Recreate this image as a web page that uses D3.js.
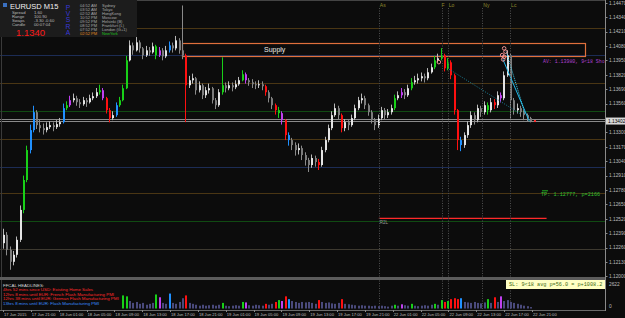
<!DOCTYPE html>
<html><head><meta charset="utf-8">
<script src="https://cdn.jsdelivr.net/npm/d3@7/dist/d3.min.js"></script>
<style>
html,body{margin:0;padding:0;background:#0c0c0c;}
svg{display:block;}
text{font-family:"Liberation Sans",Arial,sans-serif;}
.mono{font-family:"Liberation Mono","DejaVu Sans Mono",monospace;}
</style></head><body><div id="chart"></div>
<script>
// EURUSD, 30 min steps
const firstOpen = 1.12300;
const closes = [
  1.12375,1.12240,1.12132,1.12195,1.12330,1.12600,1.12870,1.13140,1.13320,1.13482,
  1.13365,1.13338,1.13320,1.13347,1.13365,1.13347,1.13374,1.13392,1.13518,1.13545,
  1.13590,1.13608,1.13572,1.13554,1.13590,1.13572,1.13608,1.13626,1.13662,1.13680,
  1.13608,1.13500,1.13428,1.13455,1.13545,1.13590,1.13698,1.13950,1.14085,1.14040,
  1.14112,1.14058,1.13995,1.14040,1.14022,1.14076,1.13995,1.14040,1.13986,1.14040,
  1.14085,1.14058,1.14130,1.14040,1.13995,1.13725,1.13770,1.13788,1.13680,1.13725,
  1.13635,1.13680,1.13698,1.13590,1.13545,1.13662,1.13725,1.13698,1.13725,1.13707,
  1.13734,1.13770,1.13824,1.13770,1.13752,1.13734,1.13725,1.13734,1.13716,1.13662,
  1.13608,1.13545,1.13500,1.13473,1.13410,1.13275,1.13230,1.13185,1.13140,1.13158,
  1.13095,1.13050,1.13005,1.13068,1.13032,1.13005,1.13140,1.13230,1.13338,1.13455,
  1.13518,1.13455,1.13338,1.13392,1.13365,1.13428,1.13518,1.13590,1.13608,1.13545,
  1.13482,1.13410,1.13365,1.13428,1.13500,1.13455,1.13482,1.13518,1.13608,1.13635,
  1.13662,1.13635,1.13698,1.13752,1.13770,1.13788,1.13806,1.13788,1.13842,1.13887,
  1.13950,1.13968,1.13995,1.13878,1.13932,1.13815,1.13500,1.13230,1.13185,1.13275,
  1.13365,1.13455,1.13410,1.13518,1.13482,1.13545,1.13500,1.13572,1.13545,1.13635,
  1.13608,1.13815,1.13995,1.13590,1.13500,1.13518,1.13482,1.13455,1.13428,1.13402
];
const highs = [
  1.12430,1.12400,1.12270,1.12230,1.12360,1.12640,1.12910,1.13180,1.13370,1.13540,
  1.13500,1.13420,1.13380,1.13390,1.13400,1.13390,1.13410,1.13430,1.13560,1.13580,
  1.13630,1.13650,1.13630,1.13600,1.13620,1.13610,1.13640,1.13660,1.13700,1.13730,
  1.13700,1.13620,1.13520,1.13490,1.13570,1.13620,1.13730,1.13990,1.14130,1.14110,
  1.14160,1.14130,1.14070,1.14080,1.14070,1.14110,1.14090,1.14070,1.14060,1.14080,
  1.14120,1.14110,1.14170,1.14150,1.14445,1.14010,1.13810,1.13830,1.13800,1.13760,
  1.13740,1.13710,1.13740,1.13710,1.13610,1.13690,1.13977,1.13750,1.13760,1.13750,
  1.13770,1.13800,1.13860,1.13840,1.13790,1.13780,1.13760,1.13770,1.13760,1.13730,
  1.13680,1.13620,1.13560,1.13530,1.13490,1.13420,1.13300,1.13250,1.13210,1.13200,
  1.13180,1.13120,1.13070,1.13100,1.13090,1.13060,1.13170,1.13260,1.13370,1.13490,
  1.13560,1.13540,1.13470,1.13420,1.13410,1.13460,1.13550,1.13620,1.13650,1.13630,
  1.13560,1.13500,1.13430,1.13460,1.13530,1.13520,1.13510,1.13550,1.13640,1.13670,
  1.13700,1.13690,1.13730,1.13790,1.13810,1.13830,1.13840,1.13830,1.13880,1.13920,
  1.13990,1.14010,1.14060,1.14010,1.13970,1.13950,1.13830,1.13510,1.13260,1.13300,
  1.13400,1.13490,1.13480,1.13550,1.13540,1.13580,1.13570,1.13610,1.13600,1.13670,
  1.13660,1.13850,1.14040,1.14010,1.13610,1.13560,1.13540,1.13500,1.13470,1.13440
];
const lows = [
  1.12250,1.12190,1.12060,1.12100,1.12170,1.12310,1.12570,1.12850,1.13110,1.13300,
  1.13330,1.13300,1.13280,1.13300,1.13330,1.13310,1.13330,1.13350,1.13380,1.13500,
  1.13530,1.13570,1.13540,1.13520,1.13540,1.13530,1.13560,1.13590,1.13610,1.13640,
  1.13590,1.13470,1.13390,1.13410,1.13440,1.13530,1.13580,1.13690,1.13940,1.14000,
  1.14030,1.14020,1.13960,1.13980,1.13990,1.14010,1.13960,1.13980,1.13950,1.13970,
  1.14020,1.14020,1.14040,1.14010,1.13960,1.13392,1.13700,1.13740,1.13640,1.13660,
  1.13600,1.13610,1.13650,1.13560,1.13510,1.13530,1.13640,1.13660,1.13680,1.13670,
  1.13690,1.13720,1.13760,1.13740,1.13720,1.13700,1.13690,1.13700,1.13680,1.13630,
  1.13570,1.13510,1.13460,1.13430,1.13370,1.13230,1.13180,1.13140,1.13090,1.13100,
  1.13050,1.13000,1.12942,1.12980,1.12990,1.12960,1.12990,1.13120,1.13210,1.13320,
  1.13440,1.13420,1.13300,1.13310,1.13320,1.13350,1.13410,1.13500,1.13560,1.13510,
  1.13450,1.13380,1.13320,1.13340,1.13410,1.13420,1.13430,1.13460,1.13500,1.13590,
  1.13610,1.13600,1.13620,1.13680,1.13730,1.13740,1.13760,1.13750,1.13770,1.13830,
  1.13870,1.13930,1.13950,1.13850,1.13860,1.13780,1.13460,1.13140,1.13130,1.13160,
  1.13250,1.13340,1.13370,1.13390,1.13440,1.13460,1.13460,1.13480,1.13510,1.13520,
  1.13570,1.13590,1.13800,1.13420,1.13460,1.13470,1.13440,1.13410,1.13400,1.13390
];
// PVSRA bar class: . normal, g bull climax, r bear climax, b bull rising, m bear rising
const barClass = (
  "......ggbb" + "........bg" + "m........g" + "mrr.bggg.." + "......gm.." +
  "b....r...." + "......g..." + "..gm.....r" + "..rgmrb..." + ".....r...." +
  "..r......." + "........g." + "m..g......" + "g.grgrrrb." + "......g.r." +
  "m........."
).split("");
const volumeStart = 36;
const volumes = [
  1400,1300,800,600,700,500,600,400,500,600,
  1500,1200,600,500,1600,600,500,700,1100,1400,
  600,500,400,300,400,300,350,400,300,400,
  600,300,250,300,350,300,700,650,350,300,
  400,350,300,500,400,500,700,900,800,1300,
  1000,800,700,600,700,650,700,600,500,900,
  700,600,650,550,500,600,1000,500,450,400,
  350,300,350,300,300,250,300,250,300,250,
  200,300,400,300,450,350,300,500,300,250,
  300,350,300,400,500,400,900,700,800,1000,
  1100,1000,1100,700,650,600,700,600,550,650,
  1000,600,1200,700,1300,800,900,700,600,500,
  400,300,250,150
];
const volumeMax = 2622;

const priceTicks = [1.12000,1.12130,1.12260,1.12390,1.12520,1.12650,1.12780,1.12910,1.13040,1.13170,
  1.13300,1.13430,1.13560,1.13690,1.13820,1.13950,1.14080,1.14210,1.14340,1.14470];
const timeLabels = ["17 Jun 2015","17 Jun 21:00","18 Jun 01:00","18 Jun 05:00","18 Jun 09:00","18 Jun 13:00",
  "18 Jun 17:00","18 Jun 21:00","19 Jun 01:00","19 Jun 05:00","19 Jun 09:00","19 Jun 13:00","19 Jun 17:00",
  "19 Jun 21:00","22 Jun 01:00","22 Jun 05:00","22 Jun 09:00","22 Jun 13:00","22 Jun 17:00","22 Jun 21:00"];

// horizontal levels (price, kind)
const levelPrices = [1.14246,1.13997,1.13744,1.13496,1.13417,1.13399,1.13243,1.12991,1.12749,1.12498,1.12246];
const levelKinds  = ["pivot","blue","pivot","green","gray","gray","pivot","blue","pivot","green","dim"];
const supplyZone = {from: 54, to: 175.5, top: 1.14106, bottom: 1.13988, label: "Supply"};
const redLevel = {from: 113.4, to: 164, price: 1.12523, label: "R2L"};
const sessionNames = ["As","F","Lo","Ny","Lc"];
const sessionBars  = [113.4,132.6,134.2,144.6,153];
const circleBars   = [131.5,151.2,151.6,150.6,151.2,150.9];
const circlePrices = [1.13934,1.14058,1.14028,1.13997,1.13982,1.13958];
const currentPrice = 1.13402;

const W = 625, H = 318, R = 605;
const svg = d3.select("#chart").append("svg").attr("width", W).attr("height", H);
svg.append("rect").attr("width", W).attr("height", H).attr("fill", "#0c0c0c");

const x = d3.scaleLinear().domain([0, closes.length - 1]).range([3, 530]);
const y = d3.scaleLinear().domain([1.12000, 1.14470]).range([276.4, 2.7]);
const yv = d3.scaleLinear().domain([0, volumeMax]).range([308.5, 284]);

const defs = svg.append("defs");
defs.append("clipPath").attr("id", "main").append("rect").attr("x", 0).attr("y", 2).attr("width", R).attr("height", 275);
defs.append("clipPath").attr("id", "vol").append("rect").attr("x", 0).attr("y", 280).attr("width", R).attr("height", 30);

const main = svg.append("g").attr("clip-path", "url(#main)");
const px = v => Math.round(v) + 0.5;

const levelColor = {pivot: "#4a3614", blue: "#1c2c55", green: "#104a12", gray: "#8a8a8a", dim: "#3e3a30"};
main.selectAll("line.level").data(levelPrices).enter().append("line")
  .attr("x1", 0).attr("x2", R)
  .attr("y1", d => px(y(d))).attr("y2", d => px(y(d)))
  .attr("stroke", (d, i) => levelColor[levelKinds[i]]).attr("stroke-width", 1);

// session lines
const sess = svg.append("g");
sess.selectAll("line").data(sessionBars).enter().append("line")
  .attr("x1", d => px(x(d))).attr("x2", d => px(x(d)))
  .attr("y1", 8).attr("y2", 310)
  .attr("stroke", "#4e4e4e").attr("stroke-dasharray", "1,1.5");
sess.selectAll("text").data(sessionNames).enter().append("text")
  .attr("x", (d, i) => x(sessionBars[i]) + (d === "F" ? -1 : 1)).attr("y", 7)
  .attr("font-size", 5).attr("fill", "#8f8a2e").text(d => d);

// supply zone
main.append("rect")
  .attr("x", px(x(supplyZone.from))).attr("y", px(y(supplyZone.top)))
  .attr("width", Math.round(x(supplyZone.to) - x(supplyZone.from)))
  .attr("height", Math.round(y(supplyZone.bottom) - y(supplyZone.top)))
  .attr("fill", "none").attr("stroke", "#e0703c").attr("stroke-width", 1.2);
main.append("text")
  .attr("x", x(supplyZone.from) + 82).attr("y", (y(supplyZone.top) + y(supplyZone.bottom)) / 2 + 2.5)
  .attr("font-size", 7).attr("fill", "#e8e8e8").text(supplyZone.label);

// red level
main.append("line")
  .attr("x1", x(redLevel.from)).attr("x2", x(redLevel.to))
  .attr("y1", y(redLevel.price)).attr("y2", y(redLevel.price))
  .attr("stroke", "#ff2a2a").attr("stroke-width", 1.3);
main.append("text").attr("x", x(redLevel.from) + 1).attr("y", y(redLevel.price) + 6)
  .attr("font-size", 4.5).attr("fill", "#9a9a9a").text(redLevel.label);

// candles
const classColor = {g: "#18d018", r: "#ff1010", b: "#2090ff", m: "#c040f0"};
const bars = closes.map((c, i) => {
  const o = i === 0 ? firstOpen : closes[i - 1];
  return {i, o, c, h: Math.max(highs[i], o, c), l: Math.min(lows[i], o, c), k: barClass[i]};
});
const cg = main.append("g");
cg.selectAll("line").data(bars).enter().append("line")
  .attr("x1", d => px(x(d.i))).attr("x2", d => px(x(d.i)))
  .attr("y1", d => y(d.h)).attr("y2", d => y(d.l))
  .attr("stroke", d => d.k !== "." ? classColor[d.k] : (d.c >= d.o ? "#b8b8b8" : "#8a8a8a"))
  .attr("stroke-width", 1);
cg.selectAll("rect").data(bars).enter().append("rect")
  .attr("x", d => Math.round(x(d.i)))
  .attr("y", d => y(Math.max(d.o, d.c)))
  .attr("width", 2)
  .attr("height", d => Math.max(1, y(Math.min(d.o, d.c)) - y(Math.max(d.o, d.c))))
  .attr("fill", d => d.k !== "." ? classColor[d.k] : (d.c >= d.o ? "#e4e4e4" : "#7c7c7c"));

// trend lines from the last swing highs
main.append("line").attr("x1", x(150.8)).attr("y1", y(1.13960)).attr("x2", x(158.8)).attr("y2", y(1.13400))
  .attr("stroke", "#20b8e8").attr("stroke-width", 1);
main.append("line").attr("x1", x(151.8)).attr("y1", y(1.14030)).attr("x2", x(157.6)).attr("y2", y(1.13460))
  .attr("stroke", "#40d0f0").attr("stroke-width", 1).attr("stroke-dasharray", "1,1");
main.append("line").attr("x1", x(134.6)).attr("y1", y(1.13870)).attr("x2", x(155.9)).attr("y2", y(1.13470))
  .attr("stroke", "#1b7f95").attr("stroke-width", 1).attr("stroke-dasharray", "1,1.5");

main.selectAll("circle").data(circleBars).enter().append("circle")
  .attr("cx", d => x(d)).attr("cy", (d, i) => y(circlePrices[i])).attr("r", 1.8)
  .attr("fill", "none").attr("stroke", "#ff9a9a").attr("stroke-width", 0.9);
main.append("rect").attr("x", x(160.2)).attr("y", y(currentPrice) - 1).attr("width", 2).attr("height", 2).attr("fill", "#ff3030");

// text annotations
main.append("text").attr("class", "mono").attr("x", 543).attr("y", 62.5)
  .attr("font-size", 4.9).attr("fill", "#b040d0").text("AV: 1.13980, 9<18 Sho");
main.append("line").attr("x1", 542).attr("x2", 548).attr("y1", y(1.12777) + 0.5).attr("y2", y(1.12777) + 0.5)
  .attr("stroke", "#20b020");
main.append("text").attr("class", "mono").attr("x", 541).attr("y", 195.5)
  .attr("font-size", 5.2).attr("fill", "#30c030").text("TP: 1.12777, p=2166");

// pane frame
svg.append("line").attr("x1", 0).attr("x2", R).attr("y1", 0.5).attr("y2", 0.5).attr("stroke", "#444");
svg.append("line").attr("x1", 1.5).attr("x2", 1.5).attr("y1", 1).attr("y2", 310).attr("stroke", "#3a3a3a");
svg.append("rect").attr("x", 0).attr("y", 277).attr("width", R).attr("height", 3).attr("fill", "#5c5c5c");
svg.append("line").attr("x1", 0).attr("x2", R).attr("y1", 310.5).attr("y2", 310.5).attr("stroke", "#6a6a6a");
svg.append("line").attr("x1", R + 0.5).attr("x2", R + 0.5).attr("y1", 0).attr("y2", 311).attr("stroke", "#8a8a8a");

// volume pane
const vg = svg.append("g").attr("clip-path", "url(#vol)");
vg.selectAll("rect").data(volumes).enter().append("rect")
  .attr("x", (d, j) => Math.round(x(j + volumeStart)))
  .attr("y", d => yv(d)).attr("width", 2).attr("height", d => yv(0) - yv(d))
  .attr("fill", (d, j) => { const k = barClass[j + volumeStart]; return k !== "." ? classColor[k] : "#4a4a7c"; });

// headlines
const heads = [
  {t: "FFCAL HEADLINES:", c: "#d8d8d8"},
  {t: "4hrs 52 mins since USD: Existing Home Sales", c: "#ff2a2a"},
  {t: "12hrs 8 mins until EUR: French Flash Manufacturing PMI", c: "#ff2a2a"},
  {t: "12hrs 38 mins until EUR: German Flash Manufacturing PMI", c: "#ff2a2a"},
  {t: "13hrs 8 mins until EUR: Flash Manufacturing PMI", c: "#3a8cff"}
];
svg.append("g").selectAll("text").data(heads).enter().append("text")
  .attr("x", 3).attr("y", (d, i) => 287 + i * 4.4).attr("font-size", 4.4)
  .attr("fill", d => d.c).text(d => d.t);

// SL box
svg.append("rect").attr("x", 506).attr("y", 280).attr("width", 99).attr("height", 9).attr("fill", "#ffffc4");
svg.append("text").attr("class", "mono").attr("x", 509).attr("y", 286.4).attr("font-size", 5.2)
  .attr("fill", "#3c6a10").text("SL: 9<18 avg p=56.0 = p+1008.2");

// price axis (tick hidden under the current price box)
const axisG = svg.append("g");
const shownTicks = priceTicks.filter(d => Math.abs(y(d) - y(currentPrice)) > 6);
axisG.selectAll("text").data(shownTicks).enter().append("text")
  .attr("x", 609).attr("y", d => y(d) + 1.8).attr("font-size", 4.8).attr("fill", "#bdbdbd")
  .text(d => d.toFixed(5));
axisG.selectAll("line").data(priceTicks).enter().append("line")
  .attr("x1", R).attr("x2", R + 2.5).attr("y1", d => px(y(d))).attr("y2", d => px(y(d))).attr("stroke", "#8a8a8a");
axisG.append("rect").attr("x", 606).attr("y", y(currentPrice) - 3.5).attr("width", 19).attr("height", 7).attr("fill", "#d8d8d8");
axisG.append("text").attr("x", 608).attr("y", y(currentPrice) + 1.8).attr("font-size", 4.8).attr("fill", "#000")
  .text(currentPrice.toFixed(5));
axisG.append("text").attr("x", 609).attr("y", yv(volumeMax) + 1.8).attr("font-size", 4.8).attr("fill", "#bdbdbd").text(volumeMax);
axisG.append("text").attr("x", 609).attr("y", yv(0) - 0.5).attr("font-size", 4.8).attr("fill", "#bdbdbd").text("0");

// time axis
const tx = d3.scalePoint().domain(timeLabels).range([3, 532]);
const tg = svg.append("g");
tg.selectAll("line").data(timeLabels).enter().append("line")
  .attr("x1", d => px(tx(d))).attr("x2", d => px(tx(d))).attr("y1", 310).attr("y2", 312).attr("stroke", "#8a8a8a");
tg.selectAll("text").data(timeLabels).enter().append("text")
  .attr("x", d => tx(d) + 1).attr("y", 316).attr("font-size", 4.1).attr("fill", "#bdbdbd").text(d => d);

// info panel (top left)
const info = svg.append("g");
info.append("rect").attr("x", 0).attr("y", 0).attr("width", 137).attr("height", 37).attr("fill", "#1c1c1c");
info.append("rect").attr("x", 3).attr("y", 3).attr("width", 4).attr("height", 4).attr("fill", "#3a70c0");
info.append("text").attr("x", 10).attr("y", 9).attr("font-size", 7.5).attr("fill", "#f0f0f0").text("EURUSD  M15");
const stats = [["Spread", "1.60"], ["Range", "100.90"], ["Swaps", "-3.30  -0.60"], ["Candle", "00:07:04"]];
info.selectAll("text.k").data(stats).enter().append("text").attr("x", 12).attr("y", (d, i) => 13.5 + i * 4.2)
  .attr("font-size", 4.2).attr("fill", "#bbbbbb").text(d => d[0]);
info.selectAll("text.v").data(stats).enter().append("text").attr("x", 34).attr("y", (d, i) => 13.5 + i * 4.2)
  .attr("font-size", 4.2).attr("fill", "#bbbbbb").text(d => d[1]);
info.append("text").attr("x", 16).attr("y", 36).attr("font-size", 9.5).attr("fill", "#ff1a1a").text(currentPrice.toFixed(4));
info.selectAll("text.p").data("PVSRA".split("")).enter().append("text")
  .attr("x", 68).attr("y", (d, i) => 10 + i * 6.2).attr("text-anchor", "middle")
  .attr("font-size", 6.8).attr("fill", "#3838d8").text(d => d);
const clocks = [["04:52 AM", "Sydney"], ["03:52 AM", "Tokyo"], ["02:52 AM", "HongKong"], ["10:52 PM", "Moscow"],
  ["09:52 PM", "Helsinki (B)"], ["08:52 PM", "Frankfurt (L)"], ["07:52 PM", "London (G+1)"], ["02:52 PM", "NewYork"]];
info.selectAll("text.t").data(clocks).enter().append("text").attr("x", 80).attr("y", (d, i) => 6.5 + i * 4)
  .attr("font-size", 4).attr("fill", (d, i) => i === clocks.length - 1 ? "#e08a20" : "#a8a8a8").text(d => d[0]);
info.selectAll("text.c").data(clocks).enter().append("text").attr("x", 102).attr("y", (d, i) => 6.5 + i * 4)
  .attr("font-size", 4).attr("fill", (d, i) => i === clocks.length - 1 ? "#20c020" : "#a8a8a8").text(d => d[1]);
</script></body></html>
